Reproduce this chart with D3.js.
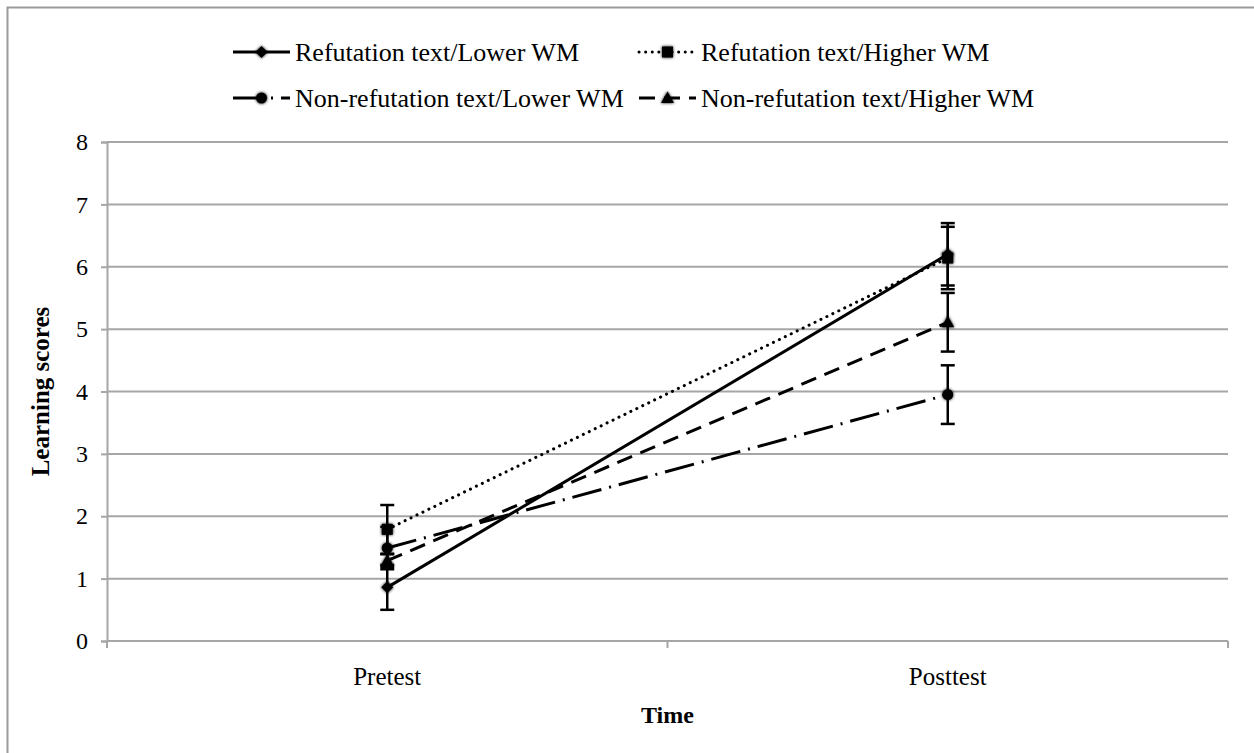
<!DOCTYPE html>
<html>
<head>
<meta charset="utf-8">
<script src="https://cdn.jsdelivr.net/npm/d3@7"></script>
<style>
  body { margin: 0; background: #fff; }
  svg text { font-family: "Liberation Serif", "Times New Roman", serif; fill: #000; }
</style>
</head>
<body>
<div id="chart"></div>
<script>
//Data
const categories = ['Pretest', 'Posttest'];
const seriesNames = ['Refutation text/Lower WM', 'Refutation text/Higher WM',
  'Non-refutation text/Lower WM', 'Non-refutation text/Higher WM'];
const refLower = [0.86, 6.20];
const refLowerErr = [0.36, 0.50];
const refHigher = [1.79, 6.14];
const refHigherErr = [0.39, 0.50];
const nonRefLower = [1.49, 3.95];
const nonRefLowerErr = [0.34, 0.47];
const nonRefHigher = [1.29, 5.11];
const nonRefHigherErr = [0.10, 0.47];
const yTicks = [0, 1, 2, 3, 4, 5, 6, 7, 8];

//Visual
const width = 1254;
const height = 753;
const margin = { left: 107, right: 26, top: 142, bottom: 112 };
const gridColor = '#a6a6a6';

const series = [
  { name: seriesNames[0], values: refLower, errs: refLowerErr, dash: null, marker: 'diamond' },
  { name: seriesNames[1], values: refHigher, errs: refHigherErr, dash: '0.1 6.5', marker: 'square' },
  { name: seriesNames[2], values: nonRefLower, errs: nonRefLowerErr, dash: '30 8 2 8', marker: 'circle' },
  { name: seriesNames[3], values: nonRefHigher, errs: nonRefHigherErr, dash: '16 9', marker: 'triangle' }
];

const svg = d3.select('#chart')
  .append('svg')
  .attr('width', width)
  .attr('height', height);

const defs = svg.append('defs');
const blur = defs.append('filter').attr('id', 'soft')
  .attr('x', '-50%').attr('y', '-50%').attr('width', '200%').attr('height', '200%');
blur.append('feGaussianBlur').attr('in', 'SourceGraphic').attr('stdDeviation', 1.6).attr('result', 'b');
const merge = blur.append('feMerge');
merge.append('feMergeNode').attr('in', 'b');
merge.append('feMergeNode').attr('in', 'SourceGraphic');

// outer frame
svg.append('rect')
  .attr('x', 7.5).attr('y', 7.5)
  .attr('width', 1300).attr('height', 800)
  .attr('fill', 'none')
  .attr('stroke', '#9a9a9a')
  .attr('stroke-width', 2);

const xScale = d3.scaleBand()
  .domain(categories)
  .range([margin.left, width - margin.right])
  .padding(0);

const yScale = d3.scaleLinear()
  .domain([0, 8])
  .range([height - margin.bottom, margin.top]);

const xc = c => xScale(c) + xScale.bandwidth() / 2;

// grid lines
svg.append('g')
  .selectAll('line')
  .data(yTicks.filter(t => t > 0))
  .enter()
  .append('line')
  .attr('x1', margin.left)
  .attr('x2', width - margin.right)
  .attr('y1', d => yScale(d))
  .attr('y2', d => yScale(d))
  .attr('stroke', gridColor)
  .attr('stroke-width', 2);

// y axis
const yAxis = svg.append('g')
  .attr('transform', `translate(${margin.left},0)`)
  .call(d3.axisLeft(yScale).tickValues(yTicks).tickSize(6).tickPadding(13).tickFormat(d3.format('d')));
yAxis.select('.domain').attr('stroke', gridColor).attr('stroke-width', 2);
yAxis.selectAll('.tick line').attr('stroke', gridColor).attr('stroke-width', 2);
yAxis.selectAll('.tick text').style('font-size', '24px').attr('font-family', null);

// x axis
const xAxisY = yScale(0);
svg.append('line')
  .attr('x1', margin.left).attr('x2', width - margin.right)
  .attr('y1', xAxisY).attr('y2', xAxisY)
  .attr('stroke', gridColor).attr('stroke-width', 2);

const boundaries = categories.map(c => xScale(c)).concat([xScale(categories[categories.length - 1]) + xScale.bandwidth()]);
svg.append('g')
  .selectAll('line')
  .data(boundaries)
  .enter()
  .append('line')
  .attr('x1', d => d).attr('x2', d => d)
  .attr('y1', xAxisY).attr('y2', xAxisY + 7)
  .attr('stroke', gridColor).attr('stroke-width', 2);

svg.append('g')
  .selectAll('text')
  .data(categories)
  .enter()
  .append('text')
  .attr('x', d => xc(d))
  .attr('y', xAxisY + 35)
  .attr('text-anchor', 'middle')
  .attr('dy', '.35em')
  .style('font-size', '25px')
  .text(d => d);

// axis titles
svg.append('text')
  .attr('x', (margin.left + width - margin.right) / 2)
  .attr('y', xAxisY + 74)
  .attr('dy', '.35em')
  .attr('text-anchor', 'middle')
  .style('font-size', '24px')
  .style('font-weight', 'bold')
  .text('Time');

svg.append('text')
  .attr('transform', `translate(40,${(yScale(0) + yScale(8)) / 2}) rotate(-90)`)
  .attr('dy', '.35em')
  .attr('text-anchor', 'middle')
  .style('font-size', '25px')
  .style('font-weight', 'bold')
  .text('Learning scores');

// markers
function drawMarker(g, type, x, y) {
  let el;
  if (type === 'diamond') {
    el = g.append('path').attr('d', `M${x},${y - 6}L${x + 6},${y}L${x},${y + 6}L${x - 6},${y}Z`);
  } else if (type === 'square') {
    el = g.append('rect').attr('x', x - 5.5).attr('y', y - 5.5).attr('width', 11).attr('height', 11);
  } else if (type === 'circle') {
    el = g.append('circle').attr('cx', x).attr('cy', y).attr('r', 5.5);
  } else {
    el = g.append('path').attr('d', `M${x},${y - 6.5}L${x + 6.5},${y + 5}L${x - 6.5},${y + 5}Z`);
  }
  el.attr('fill', '#000').attr('filter', 'url(#soft)');
}

const line = d3.line()
  .x((d, i) => xc(categories[i]))
  .y(d => yScale(d));

const plot = svg.append('g');

series.forEach(s => {
  plot.append('path')
    .datum(s.values)
    .attr('d', line)
    .attr('fill', 'none')
    .attr('stroke', '#000')
    .attr('stroke-width', 3)
    .attr('stroke-linecap', s.dash && s.dash.startsWith('0.1') ? 'round' : 'butt')
    .attr('stroke-dasharray', s.dash);
});

series.forEach(s => {
  const g = plot.append('g');
  s.values.forEach((v, i) => {
    const x = xc(categories[i]);
    const lo = yScale(v - s.errs[i]);
    const hi = yScale(v + s.errs[i]);
    g.append('line').attr('x1', x).attr('x2', x).attr('y1', lo).attr('y2', hi)
      .attr('stroke', '#000').attr('stroke-width', 2.5);
    [lo, hi].forEach(yy => {
      g.append('line').attr('x1', x - 7).attr('x2', x + 7).attr('y1', yy).attr('y2', yy)
        .attr('stroke', '#000').attr('stroke-width', 2.5);
    });
  });
});

series.forEach(s => {
  s.values.forEach((v, i) => drawMarker(plot, s.marker, xc(categories[i]), yScale(v)));
});

// legend
const legendPos = [
  { x: 233, y: 52 }, { x: 639, y: 52 },
  { x: 233, y: 98 }, { x: 639, y: 98 }
];
const legend = svg.append('g');
series.forEach((s, i) => {
  const p = legendPos[i];
  const g = legend.append('g');
  g.append('line')
    .attr('x1', p.x).attr('x2', p.x + 57)
    .attr('y1', p.y).attr('y2', p.y)
    .attr('stroke', '#000')
    .attr('stroke-width', 3)
    .attr('stroke-linecap', s.dash && s.dash.startsWith('0.1') ? 'round' : 'butt')
    .attr('stroke-dasharray', s.dash);
  drawMarker(g, s.marker, p.x + 28.5, p.y);
  g.append('text')
    .attr('x', p.x + 62)
    .attr('y', p.y)
    .attr('dy', '.35em')
    .style('font-size', '26px')
    .text(s.name);
});
</script>
</body>
</html>
